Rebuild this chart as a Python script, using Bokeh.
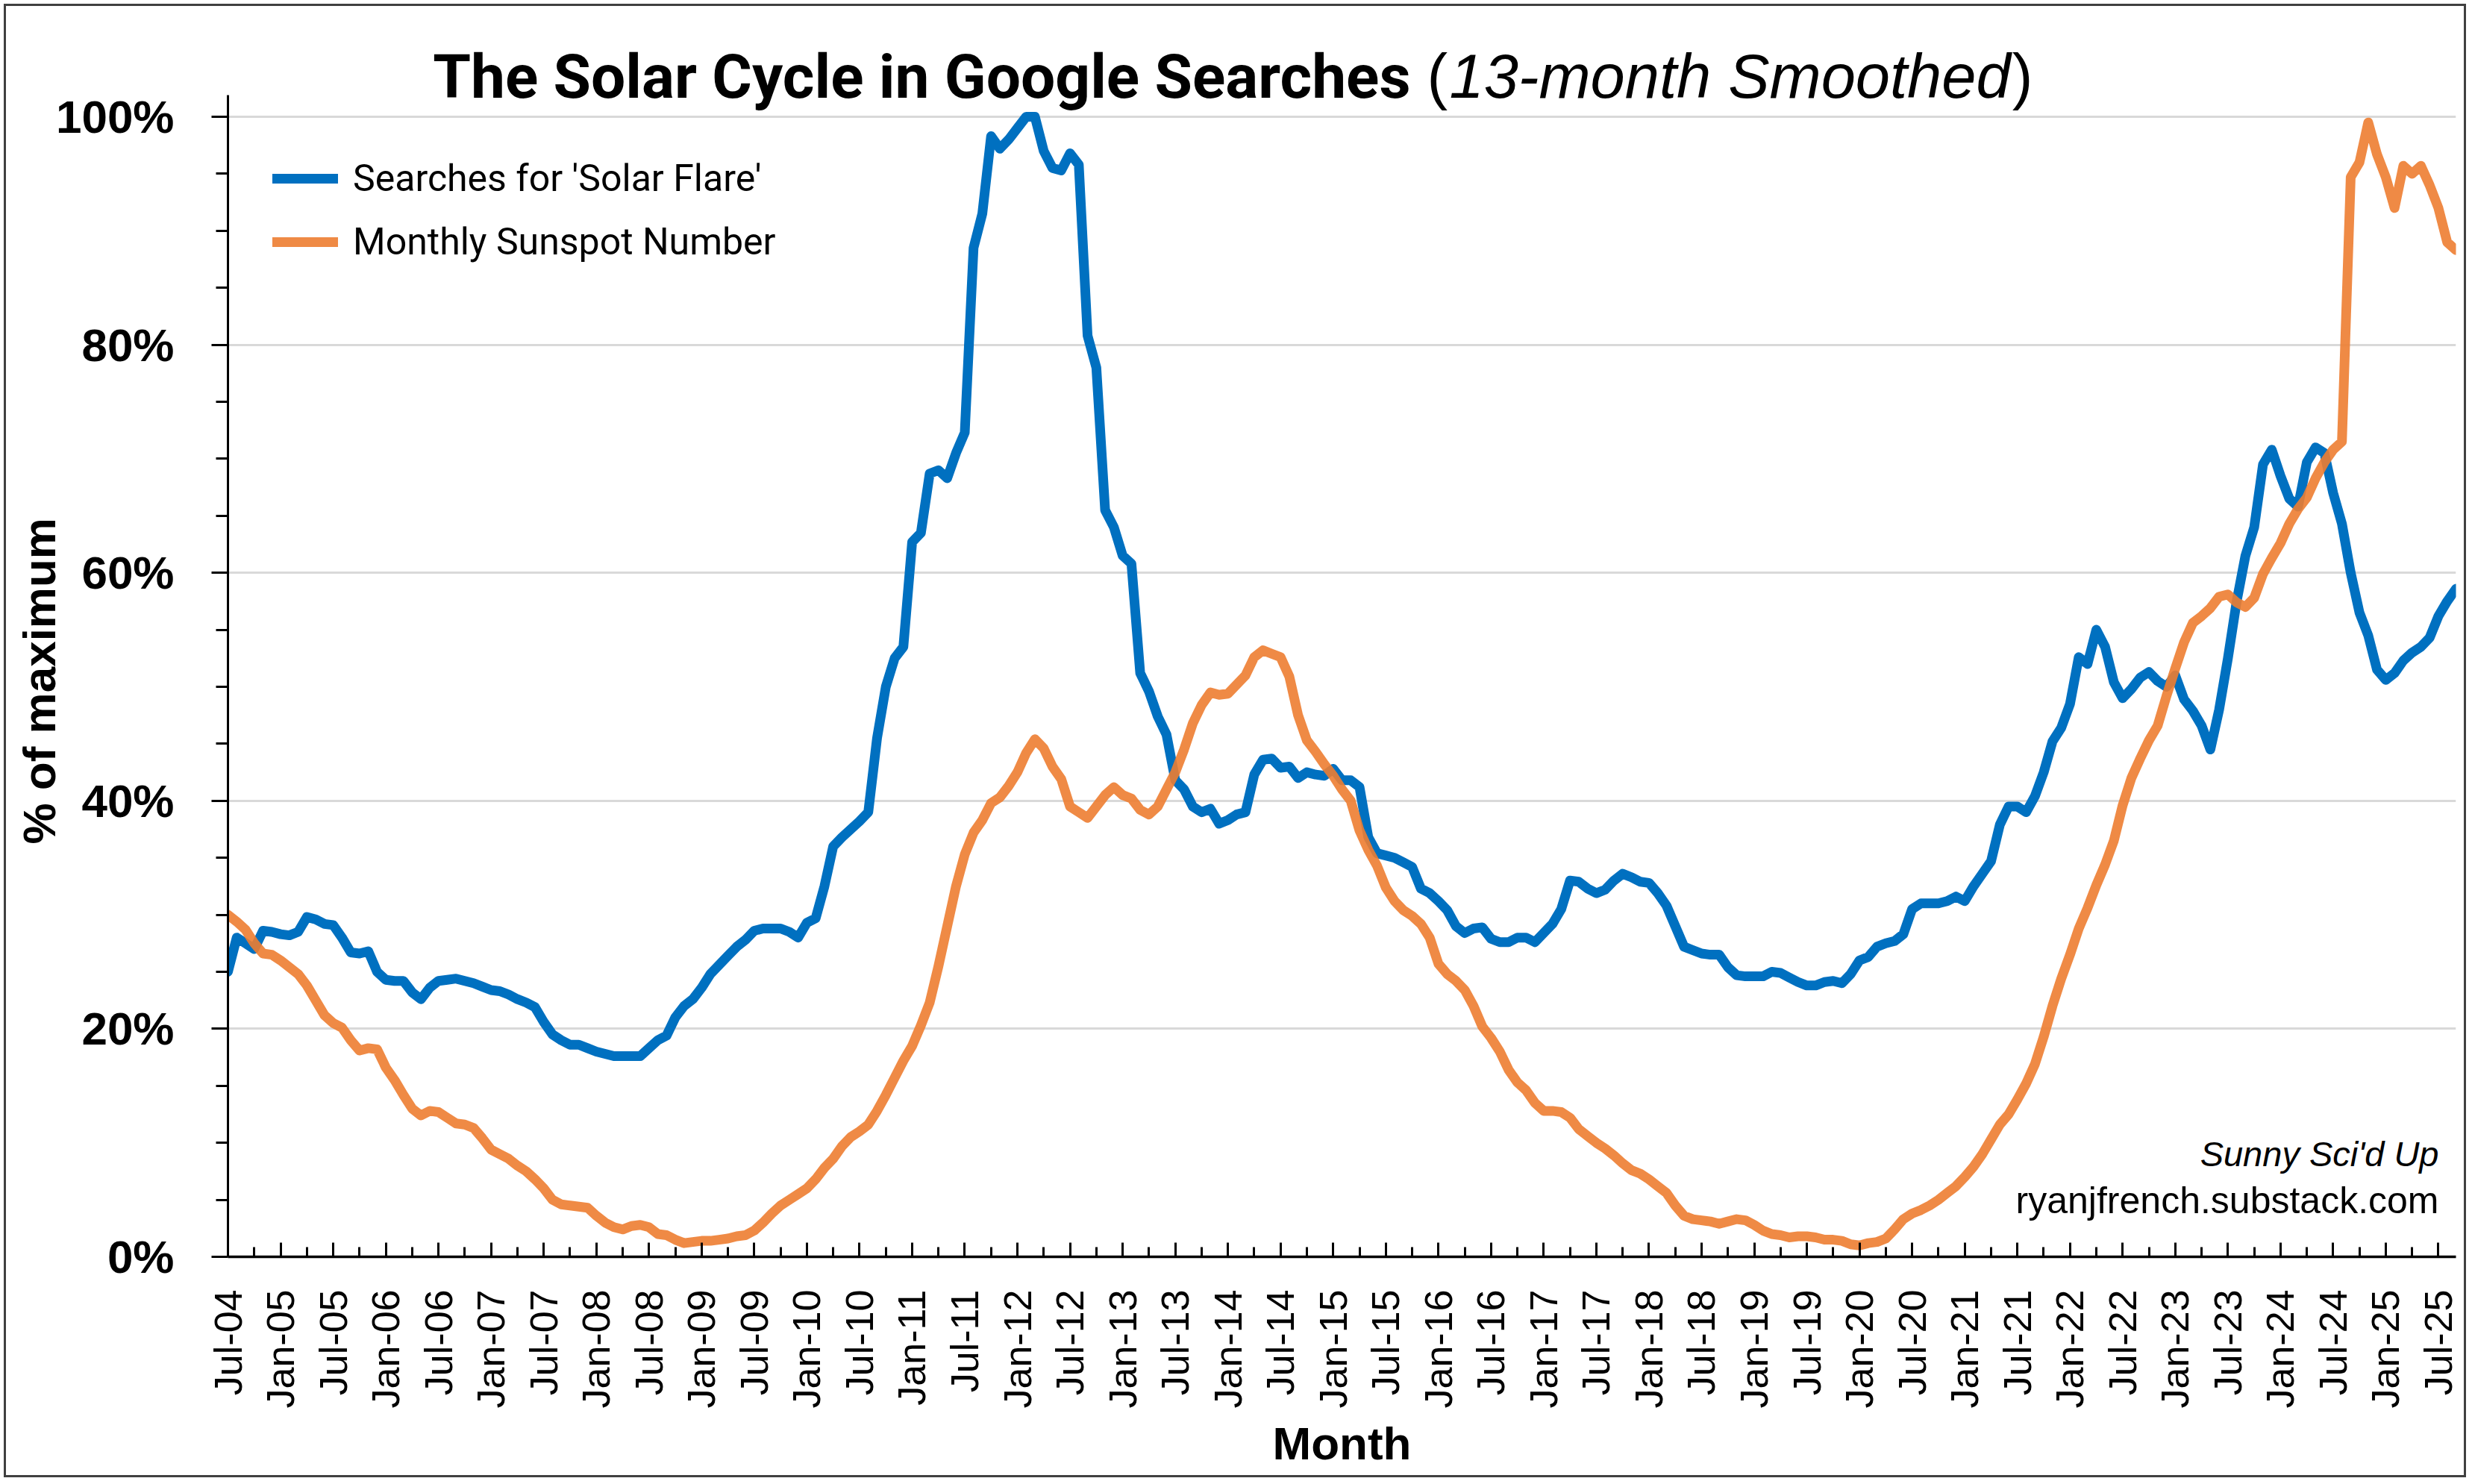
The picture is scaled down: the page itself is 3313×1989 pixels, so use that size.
import math
from bokeh.plotting import figure
from bokeh.models import Range1d, FixedTicker, Label, Legend, LegendItem, PrintfTickFormatter
from bokeh.embed import file_html
from bokeh.resources import INLINE

# ---------------- data (13-month smoothed, % of maximum), monthly Jul-04 .. Sep-25 ----------------
searches = [
    25.0, 28.0, 27.5, 27.0, 28.6, 28.5, 28.3, 28.2, 28.5, 29.8,
    29.6, 29.2, 29.1, 28.0, 26.7, 26.6, 26.8, 25.0, 24.3, 24.2,
    24.2, 23.2, 22.6, 23.6, 24.2, 24.3, 24.4, 24.2, 24.0, 23.7,
    23.4, 23.3, 23.0, 22.6, 22.3, 21.9, 20.6, 19.5, 19.0, 18.6,
    18.6, 18.3, 18.0, 17.8, 17.6, 17.6, 17.6, 17.6, 18.3, 19.0,
    19.4, 21.0, 22.0, 22.6, 23.6, 24.8, 25.6, 26.4, 27.2, 27.8,
    28.6, 28.8, 28.8, 28.8, 28.5, 28.0, 29.3, 29.7, 32.5, 36.0,
    36.8, 37.5, 38.2, 39.0, 45.5, 50.0, 52.5, 53.5, 62.7, 63.5,
    68.7, 69.0, 68.3, 70.5, 72.3, 88.5, 91.5, 98.3, 97.2, 98.0,
    99.0, 100.0, 100.0, 97.0, 95.5, 95.3, 96.8, 95.8, 80.8, 78.0,
    65.5, 64.0, 61.5, 60.8, 51.2, 49.6, 47.4, 45.8, 41.8, 41.0,
    39.5, 39.0, 39.3, 38.0, 38.3, 38.8, 39.0, 42.3, 43.6, 43.7,
    42.9, 43.0, 42.0, 42.5, 42.3, 42.2, 42.8, 41.8, 41.8, 41.2,
    36.8, 35.4, 35.2, 35.0, 34.6, 34.2, 32.3, 31.9, 31.2, 30.4,
    29.0, 28.4, 28.8, 28.9, 27.9, 27.6, 27.6, 28.0, 28.0, 27.6,
    28.4, 29.2, 30.5, 33.0, 32.9, 32.3, 31.9, 32.2, 33.0, 33.6,
    33.3, 32.9, 32.8, 31.9, 30.8, 29.0, 27.2, 26.9, 26.6, 26.5,
    26.5, 25.4, 24.7, 24.6, 24.6, 24.6, 25.0, 24.9, 24.5, 24.1,
    23.8, 23.8, 24.1, 24.2, 24.0, 24.8, 26.0, 26.3, 27.2, 27.5,
    27.7, 28.3, 30.5, 31.0, 31.0, 31.0, 31.2, 31.6, 31.2, 32.5,
    33.6, 34.7, 37.9, 39.5, 39.5, 39.0, 40.4, 42.5, 45.2, 46.4,
    48.5, 52.6, 52.0, 55.0, 53.5, 50.4, 49.0, 49.8, 50.8, 51.3,
    50.5, 50.0, 51.0, 48.9, 47.9, 46.6, 44.5, 48.0, 52.5, 57.5,
    61.5, 64.0, 69.5, 70.8, 68.5, 66.5, 65.8, 69.7, 71.0, 70.5,
    67.0, 64.3, 60.0, 56.5, 54.5, 51.5, 50.6, 51.2, 52.3, 53.0,
    53.5, 54.3, 56.2, 57.5, 58.6,
]

sunspots = [
    30.0, 29.4, 28.7, 27.5, 26.6, 26.5, 26.0, 25.4, 24.8, 23.8,
    22.5, 21.2, 20.5, 20.1, 19.0, 18.1, 18.3, 18.2, 16.6, 15.5,
    14.2, 13.0, 12.4, 12.8, 12.7, 12.2, 11.7, 11.6, 11.3, 10.4,
    9.4, 9.0, 8.6, 8.0, 7.5, 6.8, 6.0, 5.0, 4.6, 4.5,
    4.4, 4.3, 3.6, 3.0, 2.6, 2.4, 2.7, 2.8, 2.6, 2.0,
    1.9, 1.5, 1.2, 1.3, 1.4, 1.4, 1.5, 1.6, 1.8, 1.9,
    2.3, 3.0, 3.8, 4.5, 5.0, 5.5, 6.0, 6.8, 7.8, 8.6,
    9.7, 10.5, 11.0, 11.6, 12.8, 14.2, 15.7, 17.2, 18.5, 20.3,
    22.3, 25.5, 29.0, 32.5, 35.3, 37.2, 38.3, 39.8, 40.3, 41.3,
    42.5, 44.2, 45.4, 44.6, 43.0, 41.9, 39.5, 39.0, 38.5, 39.5,
    40.5, 41.2, 40.5, 40.2, 39.2, 38.8, 39.5, 41.0, 42.5, 44.5,
    46.8, 48.4, 49.5, 49.3, 49.4, 50.2, 51.0, 52.6, 53.2, 52.9,
    52.6, 50.9, 47.5, 45.3, 44.3, 43.2, 42.2, 41.0, 40.0, 37.4,
    35.7, 34.3, 32.4, 31.2, 30.4, 29.9, 29.2, 28.0, 25.7, 24.8,
    24.2, 23.4, 22.0, 20.2, 19.2, 18.0, 16.4, 15.3, 14.6, 13.5,
    12.8, 12.8, 12.7, 12.2, 11.2, 10.6, 10.0, 9.5, 8.9, 8.2,
    7.6, 7.3, 6.8, 6.2, 5.6, 4.5, 3.6, 3.3, 3.2, 3.1,
    2.9, 3.1, 3.3, 3.2, 2.8, 2.3, 2.0, 1.9, 1.7, 1.8,
    1.8, 1.7, 1.5, 1.5, 1.4, 1.1, 1.0, 1.2, 1.3, 1.6,
    2.4, 3.3, 3.8, 4.1, 4.5, 5.0, 5.6, 6.2, 7.0, 7.9,
    9.0, 10.3, 11.6, 12.5, 13.8, 15.2, 16.9, 19.3, 22.0, 24.4,
    26.5, 28.8, 30.6, 32.6, 34.4, 36.5, 39.6, 42.0, 43.7, 45.3,
    46.6, 49.2, 51.6, 53.9, 55.6, 56.2, 56.9, 57.9, 58.1, 57.4,
    57.0, 57.8, 59.9, 61.3, 62.6, 64.3, 65.6, 66.6, 68.3, 69.7,
    70.8, 71.5, 94.7, 96.0, 99.5, 96.7, 94.7, 92.0, 95.7, 95.0,
    95.7, 94.0, 92.0, 89.0, 88.3,
]

tick_labels = [
    "Jul-04", "Jan-05", "Jul-05", "Jan-06", "Jul-06", "Jan-07", "Jul-07", "Jan-08",
    "Jul-08", "Jan-09", "Jul-09", "Jan-10", "Jul-10", "Jan-11", "Jul-11", "Jan-12",
    "Jul-12", "Jan-13", "Jul-13", "Jan-14", "Jul-14", "Jan-15", "Jul-15", "Jan-16",
    "Jul-16", "Jan-17", "Jul-17", "Jan-18", "Jul-18", "Jan-19", "Jul-19", "Jan-20",
    "Jul-20", "Jan-21", "Jul-21", "Jan-22", "Jul-22", "Jan-23", "Jul-23", "Jan-24",
    "Jul-24", "Jan-25", "Jul-25",
]
y_ticks = [0, 20, 40, 60, 80, 100]

series_names = ["Searches for 'Solar Flare'", "Monthly Sunspot Number"]
title_main = "The Solar Cycle in Google Searches"
title_note = "13-month Smoothed"
y_title = "% of maximum"
x_title = "Month"
credit_1 = "Sunny Sci'd Up"
credit_2 = "ryanjfrench.substack.com"

# ---------------- layout (page pixels of the reference) ----------------
months = list(range(len(searches)))
X_MAX = len(searches) - 1
Y_AXIS_TOP = 101.9                 # top of the drawn y axis
FL, FR, FB = 305, 3291, 1684       # frame left / right / bottom (0 %)
AXIS_TOP = 127                     # page y of the y-axis top
FT = 20                            # frame extended upward so the title sits inside it
ORIGIN = 8                         # canvas origin on the page (5px margin + 3px border)
W, H = 3300, 1975                  # outer box incl. border

Y_TOP = (FB - FT) * Y_AXIS_TOP / (FB - AXIS_TOP)


def fx(px):
    return (px - FL) * X_MAX / (FR - FL)


def fy(py):
    return (FB - py) * Y_AXIS_TOP / (FB - AXIS_TOP)


p = figure(width=W, height=H, output_backend="svg", toolbar_location=None, title=None,
           x_range=Range1d(0, X_MAX), y_range=Range1d(0, Y_TOP),
           min_border_left=FL - ORIGIN, min_border_right=W - (FR - ORIGIN),
           min_border_top=FT - ORIGIN, min_border_bottom=H - (FB - ORIGIN))
p.styles = {"border": "3px solid #404040", "margin-left": "5px", "margin-top": "5px"}
p.outline_line_color = None
p.background_fill_color = "white"
p.border_fill_color = "white"

# grid
p.xgrid.visible = False
p.ygrid.grid_line_color = "#d9d9d9"
p.ygrid.grid_line_width = 3

# y axis
ya = p.yaxis[0]
ya.bounds = (0, Y_AXIS_TOP)
ya.ticker = FixedTicker(ticks=y_ticks, minor_ticks=list(range(5, 100, 5)))
ya.formatter = PrintfTickFormatter(format="%d%%")
ya.axis_line_color = "black"
ya.axis_line_width = 3
ya.major_tick_line_width = 3
ya.minor_tick_line_width = 3
ya.major_tick_in = 0
ya.major_tick_out = 22
ya.minor_tick_in = 0
ya.minor_tick_out = 16
ya.major_label_standoff = 50
ya.major_label_text_font = "Liberation Sans"
ya.major_label_text_font_style = "bold"
ya.major_label_text_font_size = "62px"
ya.major_label_text_color = "black"
# the frame reaches up to the title, so pad the (upward-reading) label at its end
# to keep it centred on the 0-100 % span like the reference
ya.axis_label = y_title + "\u00a0" * 7
ya.axis_label_standoff = -15
ya.axis_label_text_font = "Liberation Sans"
ya.axis_label_text_font_style = "bold"
ya.axis_label_text_font_size = "62px"
ya.axis_label_text_color = "black"

# x axis
xa = p.xaxis[0]
xa.ticker = FixedTicker(ticks=list(range(0, 6 * len(tick_labels), 6)),
                        minor_ticks=list(range(3, 6 * len(tick_labels) - 3, 6)))
xa.major_label_overrides = {6 * i: lab for i, lab in enumerate(tick_labels)}
xa.major_label_orientation = math.pi / 2
xa.axis_line_color = "black"
xa.axis_line_width = 3.5
xa.major_tick_line_width = 3
xa.minor_tick_line_width = 3
xa.major_tick_in = 19
xa.major_tick_out = 0
xa.minor_tick_in = 13
xa.minor_tick_out = 0
xa.major_label_standoff = 44
xa.major_label_text_font = "Liberation Sans"
xa.major_label_text_font_size = "52px"
xa.major_label_text_color = "black"
xa.axis_label = x_title
xa.axis_label_standoff = 10
xa.axis_label_text_font = "Liberation Sans"
xa.axis_label_text_font_style = "bold"
xa.axis_label_text_font_size = "62px"
xa.axis_label_text_color = "black"

# series
r_search = p.line(months, searches, line_color="#0070C0", line_width=13,
                  line_join="round", line_cap="round")
r_sun = p.line(months, sunspots, line_color="#ED7D31", line_width=13, line_alpha=0.9,
               line_join="round", line_cap="round")

legend = Legend(items=[LegendItem(label=series_names[0], renderers=[r_search]),
                       LegendItem(label=series_names[1], renderers=[r_sun])],
                location=(60, FB - 356), orientation="vertical",
                glyph_width=88, glyph_height=64, label_height=64, spacing=21,
                label_standoff=20, padding=0, margin=0,
                border_line_color=None, background_fill_alpha=0,
                label_text_font="Roboto", label_text_font_size="50px",
                label_text_color="black")
p.add_layout(legend)


def add_text(px, py, text, font="Liberation Sans", size=62, style="normal",
             align="left"):
    # the rendered baseline sits ~0.3 em below the anchor, so lift the anchor
    p.add_layout(Label(x=fx(px), y=fy(py - 0.3 * size), text=text, text_align=align,
                       text_baseline="alphabetic", text_font=font, text_font_style=style,
                       text_font_size=f"{size}px", text_color="black"))


# title (bold + italic note), inside the upward-extended frame
add_text(1890, 127, title_main, font="Roboto", size=82, style="bold", align="right")
add_text(1912, 127, "(", size=83)
add_text(1942, 127, title_note, size=83, style="italic")
add_text(2724, 127, ")", size=83, align="right")

# credits
add_text(3268, 1560, credit_1, style="italic", size=47, align="right")
add_text(3268, 1623, credit_2, size=50, align="right")

open("out.html", "w").write(file_html(p, INLINE))
